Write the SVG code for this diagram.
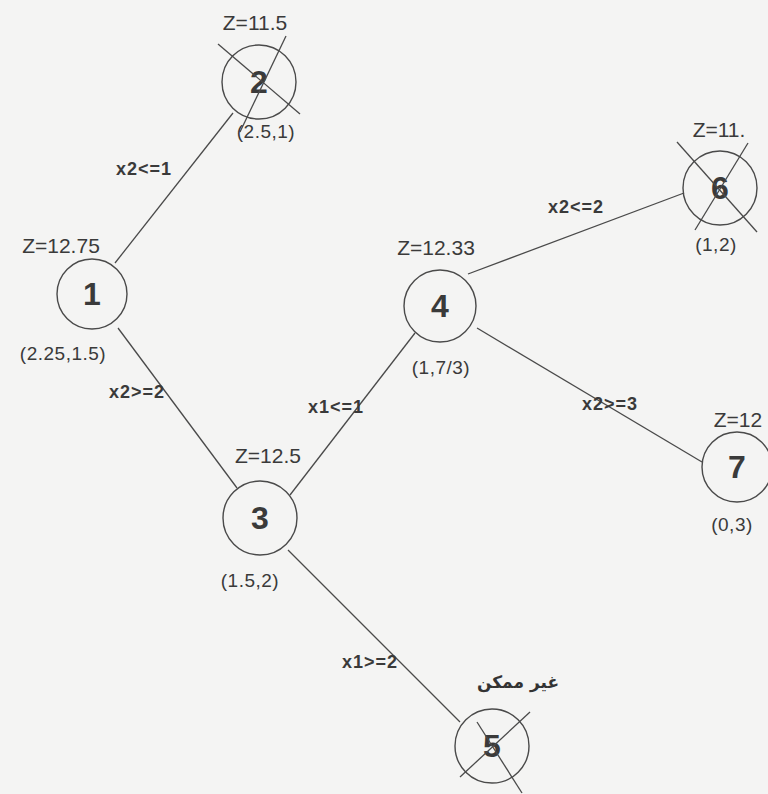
<svg xmlns="http://www.w3.org/2000/svg" width="768" height="794" viewBox="0 0 768 794">
<style>
.bg{fill:#f4f4f3}
.node{fill:none;stroke:#4a4a4a;stroke-width:1.4}
.num{font-family:"Liberation Sans",Arial,sans-serif;font-size:32px;font-weight:bold;fill:#3a3a3a;text-anchor:middle}
.z{font-family:"Liberation Sans",Arial,sans-serif;font-size:21px;fill:#3a3a3a;text-anchor:middle}
.c{font-family:"Liberation Sans",Arial,sans-serif;font-size:19px;fill:#3a3a3a;text-anchor:middle;letter-spacing:0.5px}
.e{font-family:"Liberation Sans",Arial,sans-serif;font-size:18px;font-weight:bold;fill:#3a3a3a;text-anchor:middle;letter-spacing:1px}
.ar{font-family:"DejaVu Sans",sans-serif;font-size:17px;font-weight:bold;fill:#333;text-anchor:middle}
.edge{stroke:#4a4a4a;stroke-width:1.3;fill:none}
.x{stroke:#4a4a4a;stroke-width:1.3;fill:none}
</style>
<rect class="bg" x="0" y="0" width="768" height="794"/>
<g id="connectors">
<line class="edge" x1="115" y1="263" x2="233" y2="113"/>
<line class="edge" x1="118" y1="328" x2="237" y2="488"/>
<line class="edge" x1="290" y1="495" x2="415" y2="333"/>
<line class="edge" x1="288" y1="550" x2="460" y2="722"/>
<line class="edge" x1="468" y1="274" x2="684" y2="193"/>
<line class="edge" x1="477" y1="328" x2="702" y2="462"/>
<text class="e" x="144" y="175">x2&lt;=1</text>
<text class="e" x="137" y="398">x2&gt;=2</text>
<text class="e" x="336" y="413">x1&lt;=1</text>
<text class="e" x="576" y="213">x2&lt;=2</text>
<text class="e" x="610" y="410">x2&gt;=3</text>
<text class="e" x="370" y="668">x1&gt;=2</text>
</g>
<g id="node1">
<circle class="node" cx="92" cy="294" r="35"/>
<text class="num" x="92" y="305">1</text>
<text class="z" x="61" y="253">Z=12.75</text>
<text class="c" x="63" y="360">(2.25,1.5)</text>
</g>
<g id="node2">
<circle class="node" cx="259" cy="82" r="37"/>
<text class="num" x="259" y="93">2</text>
<line class="x" x1="218" y1="44" x2="300" y2="114"/>
<line class="x" x1="286" y1="36" x2="240" y2="132"/>
<text class="z" x="255" y="30">Z=11.5</text>
<text class="c" x="266" y="138">(2.5,1)</text>
</g>
<g id="node3">
<circle class="node" cx="260" cy="518" r="37"/>
<text class="num" x="260" y="529">3</text>
<text class="z" x="268" y="463">Z=12.5</text>
<text class="c" x="250" y="587">(1.5,2)</text>
</g>
<g id="node4">
<circle class="node" cx="440" cy="306" r="36"/>
<text class="num" x="440" y="317">4</text>
<text class="z" x="436" y="255">Z=12.33</text>
<text class="c" x="441" y="374">(1,7/3)</text>
</g>
<g id="node5">
<circle class="node" cx="492" cy="746" r="37"/>
<text class="num" x="492" y="757">5</text>
<line class="x" x1="477" y1="722" x2="522" y2="793"/>
<line class="x" x1="530" y1="712" x2="460" y2="777"/>
<text class="ar" x="518" y="688">غير ممكن</text>
</g>
<g id="node6">
<circle class="node" cx="720" cy="188" r="37"/>
<text class="num" x="720" y="199">6</text>
<line class="x" x1="677" y1="142" x2="757" y2="232"/>
<line class="x" x1="748" y1="143" x2="695" y2="230"/>
<text class="z" x="719" y="137">Z=11.</text>
<text class="c" x="716" y="251">(1,2)</text>
</g>
<g id="node7">
<circle class="node" cx="737" cy="467" r="35"/>
<text class="num" x="737" y="478">7</text>
<text class="z" x="738" y="427">Z=12</text>
<text class="c" x="732" y="531">(0,3)</text>
</g>
</svg>
